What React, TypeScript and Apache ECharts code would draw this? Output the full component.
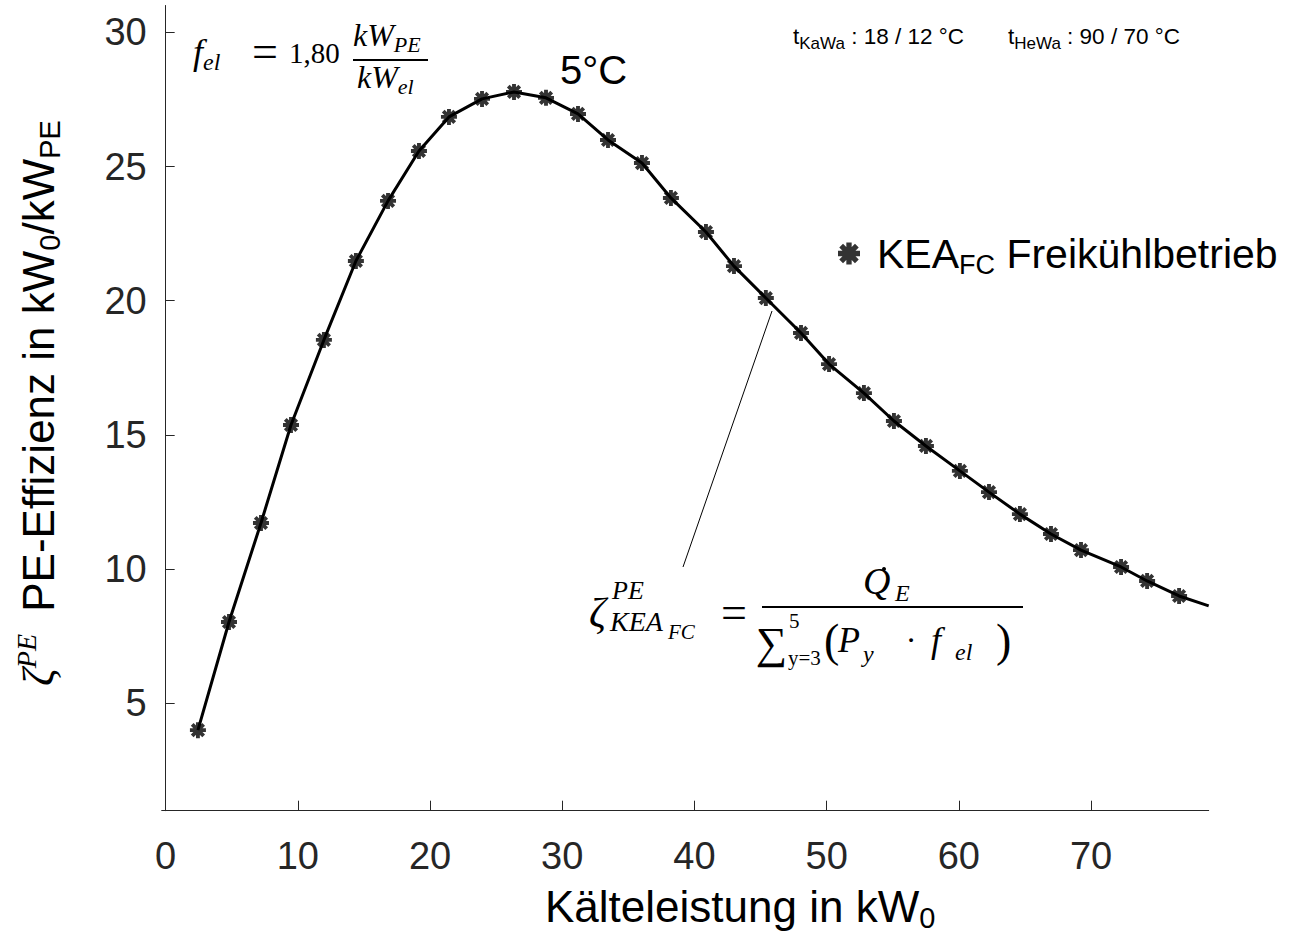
import React, { useEffect, useRef } from "react";
import * as echarts from "echarts";

// ---- data ----
const xValues = [2.44, 4.79, 7.21, 9.48, 11.97, 14.39, 16.82, 19.16, 21.43, 23.93, 26.35, 28.77, 31.19, 33.46, 36.03, 38.22, 40.87, 42.99, 45.4, 48.06, 50.18, 52.82, 55.09, 57.51, 60.08, 62.28, 64.62, 66.97, 69.24, 72.27, 74.24, 76.66];
const yValues = [4.0, 8.03, 11.72, 15.37, 18.54, 21.48, 23.72, 25.58, 26.85, 27.52, 27.78, 27.56, 26.96, 25.99, 25.13, 23.83, 22.56, 21.29, 20.1, 18.8, 17.64, 16.56, 15.52, 14.59, 13.66, 12.87, 12.05, 11.31, 10.71, 10.08, 9.56, 9.0];
const curveEndX = [78.9];
const curveEndY = [8.63];
const xTicks = [0, 10, 20, 30, 40, 50, 60, 70];
const yTicks = [5, 10, 15, 20, 25, 30];
const xRange = [-0.3, 78.9];
const yRange = [1, 31];
const seriesName = "KEA_FC Freikühlbetrieb";

const SANS = "Liberation Sans, Arial, Helvetica, sans-serif";
const SERIF = "Liberation Serif, DejaVu Serif, Times New Roman, serif";
const AXIS = "#262626";

const ASTERISK =
  "path://M-1.7,-7L1.7,-7L1.7,7L-1.7,7Z" +
  "M-7,-1.7L7,-1.7L7,1.7L-7,1.7Z" +
  "M-6.2,-3.8L-3.8,-6.2L6.2,3.8L3.8,6.2Z" +
  "M-3.8,6.2L-6.2,3.8L3.8,-6.2L6.2,-3.8Z";

function txt(x: number, y: number, text: string, size: number, extra: any = {}) {
  return {
    type: "text",
    x,
    y,
    silent: true,
    style: {
      text,
      fontSize: size,
      fontFamily: extra.family || SERIF,
      fontStyle: extra.italic ? "italic" : "normal",
      fill: "#000",
      align: extra.align || "left",
      verticalAlign: "middle",
      rich: extra.rich,
    },
  };
}

function richSans(S: number, s: number, L: number, drop: number) {
  const h = L - 2 * drop + 0.68 * (s - S);
  return {
    m: { fontFamily: SANS, fontSize: S, lineHeight: L, fill: "#000", color: "#000" },
    sub: { fontFamily: SANS, fontSize: s, lineHeight: h, verticalAlign: "bottom", fill: "#000", color: "#000" },
  };
}

function richSerif(S: number, s: number, L: number, drop: number) {
  const h = L - 2 * drop + 0.68 * (s - S);
  return {
    i: { fontFamily: SERIF, fontStyle: "italic", fontSize: S, lineHeight: L, fill: "#000" },
    isub: { fontFamily: SERIF, fontStyle: "italic", fontSize: s, lineHeight: h, verticalAlign: "bottom", fill: "#000" },
  };
}

export default function App() {
  const ref = useRef<HTMLDivElement>(null);
  useEffect(() => {
    if (!ref.current) return;
    const chart = echarts.init(ref.current, null, { renderer: "svg" });
    const points = xValues.map((x, i) => [x, yValues[i]]);
    const curve = points.concat(curveEndX.map((x, i) => [x, curveEndY[i]]));

    const ySupH = 52 + 0.68 * (44 - 28) - 2 * 13;
    const yLabelRich = {
      z: { fontFamily: SERIF, fontStyle: "italic", fontSize: 44, lineHeight: 52, fill: "#000" },
      sup: { fontFamily: SERIF, fontStyle: "italic", fontSize: 28, lineHeight: ySupH, verticalAlign: "top", fill: "#000", padding: [0, 10, 0, 0] },
      ...richSans(44, 29, 52, 11),
    };

    const option: any = {
      animation: false,
      backgroundColor: "#fff",
      grid: { left: 161.7, top: 5.5, right: 80.3, bottom: 125.3, containLabel: false },
      xAxis: {
        type: "value",
        min: xRange[0],
        max: xRange[1],
        axisLine: { show: true, lineStyle: { color: AXIS, width: 1 } },
        axisTick: { show: true, inside: true, length: 10, customValues: xTicks, lineStyle: { color: AXIS } },
        axisLabel: { customValues: xTicks, fontSize: 38, fontFamily: SANS, color: AXIS, margin: 26 },
        splitLine: { show: false },
      },
      yAxis: {
        type: "value",
        min: yRange[0],
        max: yRange[1],
        axisLine: { show: true, lineStyle: { color: AXIS, width: 1 } },
        axisTick: { show: true, inside: true, length: 9, customValues: yTicks, lineStyle: { color: AXIS } },
        axisLabel: { customValues: yTicks, fontSize: 38, fontFamily: SANS, color: AXIS, margin: 15 },
        splitLine: { show: false },
      },
      legend: {
        data: [seriesName],
        left: 833,
        top: 228,
        itemWidth: 22,
        itemHeight: 22,
        icon: ASTERISK,
        selectedMode: false,
        formatter: () => "{k|KEA}{sub|FC}{m| Freikühlbetrieb}",
        textStyle: {
          fontSize: 41,
          fontFamily: SANS,
          color: "#000",
          rich: {
            k: { fontFamily: SANS, fontSize: 41, lineHeight: 50, color: "#000", padding: [0, 0, 0, 12] },
            ...richSans(41, 27, 50, 10),
          },
        },
        itemStyle: { color: "#000" },
      },
      series: [
        {
          name: "curve",
          type: "line",
          data: curve,
          showSymbol: false,
          symbol: "none",
          lineStyle: { color: "#000", width: 3 },
          silent: true,
          z: 2,
        },
        {
          name: seriesName,
          type: "scatter",
          data: points,
          symbol: ASTERISK,
          symbolSize: 16,
          itemStyle: { color: "#000" },
          z: 3,
        },
      ],
      graphic: [
        // y axis name (rotated)
        {
          type: "group",
          x: 38,
          y: 686,
          rotation: Math.PI / 2,
          silent: true,
          children: [
            {
              type: "text",
              x: 0,
              y: 0,
              style: {
                text: "{z|ζ}{sup|PE}{m| PE-Effizienz in kW}{sub|0}{m|/kW}{sub|PE}",
                rich: yLabelRich,
                align: "left",
                verticalAlign: "middle",
              },
            },
          ],
        },
        // x axis name
        txt(545, 906, "{m|Kälteleistung in kW}{sub|0}", 44, { family: SANS, rich: richSans(44, 29, 52, 11) }),
        // 5°C
        txt(560, 70, "5°C", 40, { family: SANS }),
        // top right conditions
        txt(793, 36, "{m|t}{sub|KaWa}{m| : 18 / 12 °C}", 22, { family: SANS, rich: richSans(22.5, 17, 32, 9) }),
        txt(1008, 36, "{m|t}{sub|HeWa}{m| : 90 / 70 °C}", 22, { family: SANS, rich: richSans(22.5, 17, 32, 9) }),
        // f_el formula
        txt(193, 52, "{i|f}{isub|el}", 36, { rich: richSerif(36, 24, 44, 7) }),
        txt(265, 51, "=", 46, { align: "center" }),
        txt(289, 53, "1,80", 29),
        { type: "line", silent: true, shape: { x1: 353, y1: 60, x2: 428, y2: 60 }, style: { stroke: "#000", lineWidth: 2 } },
        txt(353, 35, "{i|kW}{isub|PE}", 32, { rich: richSerif(32, 22, 40, 6) }),
        txt(357, 77, "{i|kW}{isub|el}", 32, { rich: richSerif(32, 22, 40, 6) }),
        // leader line
        { type: "line", silent: true, shape: { x1: 683, y1: 567, x2: 772, y2: 311 }, style: { stroke: "#000", lineWidth: 1 } },
        // bottom formula
        txt(589, 613, "ζ", 42, { italic: true }),
        txt(612, 590, "PE", 26, { italic: true }),
        txt(610, 621, "KEA", 28, { italic: true }),
        txt(668, 632, "FC", 21, { italic: true }),
        txt(734, 612, "=", 46, { align: "center" }),
        { type: "line", silent: true, shape: { x1: 762, y1: 607, x2: 1023, y2: 607 }, style: { stroke: "#000", lineWidth: 2 } },
        txt(863, 581, "Q", 38, { italic: true }),
        { type: "circle", silent: true, shape: { cx: 884, cy: 569, r: 2 }, style: { fill: "#000" } },
        txt(895, 593, "E", 24, { italic: true }),
        txt(787, 643, "∑", 44, { align: "right" }),
        txt(789, 621, "5", 21),
        txt(788, 658, "y=3", 21),
        txt(824, 640, "(", 46),
        txt(838, 640, "P", 36, { italic: true }),
        txt(863, 654, "y", 24, { italic: true }),
        txt(911, 640, "·", 32, { align: "center" }),
        txt(931, 640, "f", 36, { italic: true }),
        txt(955, 652, "el", 24, { italic: true }),
        txt(996, 640, ")", 46),
      ],
    };
    chart.setOption(option);
    return () => chart.dispose();
  }, []);
  return (
    <div
      ref={ref}
      style={{ position: "absolute", left: 0, top: 0, width: 1289, height: 936, background: "#fff" }}
    />
  );
}
